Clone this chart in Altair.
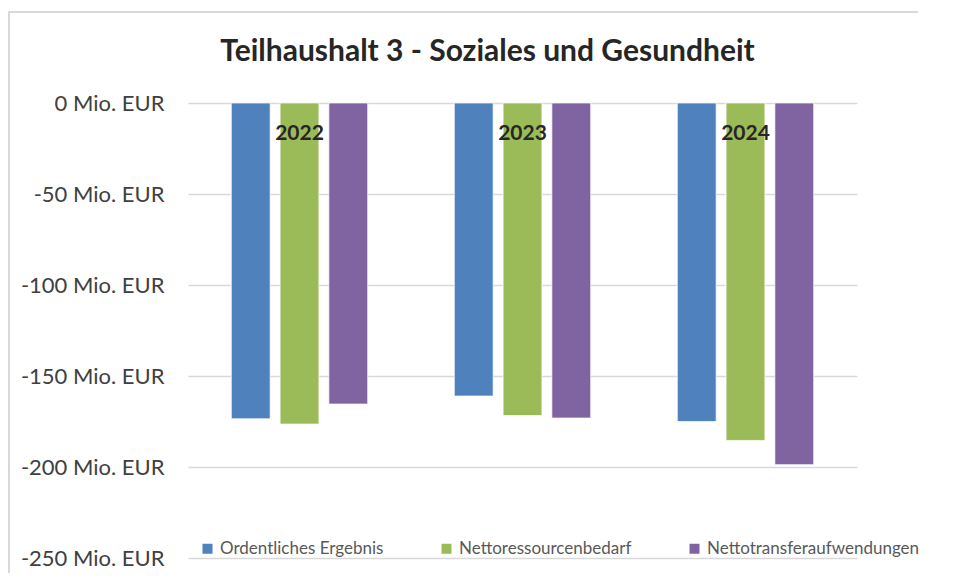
import altair as alt
import pandas as pd

years = ["2022", "2023", "2024"]
series = ["Ordentliches Ergebnis", "Nettoressourcenbedarf", "Nettotransferaufwendungen"]
ordentliches = [-173.5, -161.0, -175.0]
nettoressourcen = [-176.4, -171.7, -185.4]
nettotransfer = [-165.4, -173.1, -198.7]
colors = ["#4F81BD", "#9BBB59", "#8064A2"]
y_ticks = [0, -50, -100, -150, -200, -250]

rows = []
for i, y in enumerate(years):
    for s, vals in zip(series, [ordentliches, nettoressourcen, nettotransfer]):
        rows.append({"Jahr": y, "Reihe": s, "Wert": vals[i]})
df = pd.DataFrame(rows)
years_df = pd.DataFrame({"Jahr": years, "pos": [-16.8] * 3})
frame_df = pd.DataFrame({"k": [0]})

FONT = "Lato"

x_enc = alt.X("Jahr:N", sort=years, axis=None,
              scale=alt.Scale(paddingInner=0, paddingOuter=0))
y_scale = alt.Scale(domain=[-250, 0], nice=False, zero=False)

bars = alt.Chart(df).mark_bar(stroke="white", strokeWidth=1, strokeOpacity=0.7).encode(
    x=x_enc,
    xOffset=alt.XOffset("Reihe:N", sort=series,
                        scale=alt.Scale(paddingInner=0.204, paddingOuter=0.888)),
    y=alt.Y("Wert:Q", scale=y_scale,
            axis=alt.Axis(values=y_ticks, title=None, grid=True, gridColor="#d9d9d9",
                          gridWidth=1.5, domain=False, ticks=False,
                          labelExpr="datum.value + ' Mio. EUR'",
                          labelFont=FONT, labelFontSize=22, labelColor="#404040",
                          labelPadding=24)),
    color=alt.Color("Reihe:N", sort=series,
                    scale=alt.Scale(domain=series, range=colors),
                    legend=alt.Legend(title=None, orient="none", legendX=11, legendY=437,
                                      direction="horizontal", symbolType="square",
                                      symbolSize=100, symbolStrokeWidth=0,
                                      labelFont=FONT, labelFontSize=17,
                                      labelColor="#595959", columnPadding=54,
                                      labelOffset=4, labelLimit=400, padding=0)),
)

labels = alt.Chart(years_df).mark_text(font=FONT, fontSize=21, fontWeight="bold",
                                       color="#262626", baseline="middle").encode(
    x=x_enc,
    y=alt.Y("pos:Q", scale=y_scale),
    text="Jahr:N",
)

frame_top = alt.Chart(frame_df).mark_rect(fill="#d9d9d9", strokeWidth=0).encode(
    x=alt.value(-180), x2=alt.value(730), y=alt.value(-92), y2=alt.value(-90),
)
frame_left = alt.Chart(frame_df).mark_rect(fill="#d9d9d9", strokeWidth=0).encode(
    x=alt.value(-180), x2=alt.value(-178), y=alt.value(-92), y2=alt.value(470),
)

chart = alt.layer(frame_top, frame_left, bars, labels).properties(
    width=669, height=455,
    title=alt.TitleParams("Teilhaushalt 3 - Soziales und Gesundheit", font=FONT,
                          fontSize=30, fontWeight="bold", color="#262626",
                          anchor="middle", dx=-35, offset=0, baseline="alphabetic",
                          dy=80),
    autosize=alt.AutoSizeParams(type="none"),
    padding={"left": 180, "top": 95, "right": 92, "bottom": 15},
).configure(background="white").configure_view(strokeWidth=0, stroke="transparent")

chart.save("out.html", embed_options={"renderer": "svg", "actions": False})
